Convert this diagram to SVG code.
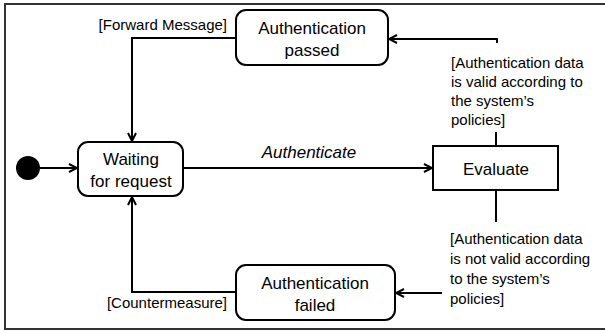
<svg xmlns="http://www.w3.org/2000/svg" width="605" height="334" viewBox="0 0 605 334">
  <defs>
    <marker id="open-arrow" viewBox="0 0 10 10" refX="9" refY="5" markerWidth="10" markerHeight="10" markerUnits="userSpaceOnUse" orient="auto">
      <path d="M1,1 L9,5 L1,9" fill="none" stroke="#000" stroke-width="2"/>
    </marker>
    <style>
      .frame { fill: none; stroke: #333; stroke-width: 2; }
      .state { fill: #fff; stroke: #000; stroke-width: 2; }
      .edge { fill: none; stroke: #000; stroke-width: 2; }
      .arrow { marker-end: url(#open-arrow); }
      .name { font-family: "Liberation Sans", Arial, sans-serif; font-size: 17px; fill: #000; text-anchor: middle; }
      .guard { font-family: "Liberation Sans", Arial, sans-serif; font-size: 15px; fill: #000; }
      .event { font-family: "Liberation Sans", Arial, sans-serif; font-size: 17px; font-style: italic; fill: #000; text-anchor: middle; }
    </style>
  </defs>

  <rect class="frame" x="5" y="4" width="604" height="325"/>

  <g id="connectors">
    <!-- initial -> waiting -->
    <line class="edge arrow" x1="40" y1="168" x2="77" y2="168"/>
    <!-- waiting -> evaluate -->
    <line class="edge arrow" x1="183" y1="168" x2="432" y2="168"/>
    <text class="event" x="309" y="158">Authenticate</text>
    <!-- evaluate -> passed -->
    <polyline class="edge" points="496,146 496,132"/>
    <polyline class="edge arrow" points="497,43 497,39 389,39"/>
    <text class="guard" x="451" y="68">[Authentication data</text>
    <text class="guard" x="451" y="87">is valid according to</text>
    <text class="guard" x="451" y="106">the system’s</text>
    <text class="guard" x="451" y="125">policies]</text>
    <!-- evaluate -> failed -->
    <polyline class="edge" points="496,190 496,222"/>
    <line class="edge arrow" x1="442" y1="293" x2="396" y2="293"/>
    <text class="guard" x="450" y="244">[Authentication data</text>
    <text class="guard" x="450" y="264">is not valid according</text>
    <text class="guard" x="450" y="284">to the system’s</text>
    <text class="guard" x="450" y="304">policies]</text>
    <!-- passed -> waiting -->
    <polyline class="edge arrow" points="236,38 132,38 132,141"/>
    <text class="guard" x="227" y="30" text-anchor="end">[Forward Message]</text>
    <!-- failed -> waiting -->
    <polyline class="edge arrow" points="236,292 132,292 132,197"/>
    <text class="guard" x="227" y="308" text-anchor="end">[Countermeasure]</text>
  </g>

  <g id="initial">
    <circle cx="28" cy="168" r="12" fill="#000"/>
  </g>

  <g id="waiting">
    <rect class="state" x="78" y="142" width="105" height="54" rx="10"/>
    <text class="name" x="131" y="165">Waiting</text>
    <text class="name" x="131" y="187">for request</text>
  </g>

  <g id="evaluate">
    <rect class="state" x="433" y="146" width="125" height="44"/>
    <text class="name" x="496" y="175">Evaluate</text>
  </g>

  <g id="passed">
    <rect class="state" x="236" y="10" width="152" height="55" rx="10"/>
    <text class="name" x="312" y="34">Authentication</text>
    <text class="name" x="312" y="56">passed</text>
  </g>

  <g id="failed">
    <rect class="state" x="236" y="265" width="159" height="55" rx="10"/>
    <text class="name" x="315" y="289">Authentication</text>
    <text class="name" x="315" y="311">failed</text>
  </g>
</svg>
